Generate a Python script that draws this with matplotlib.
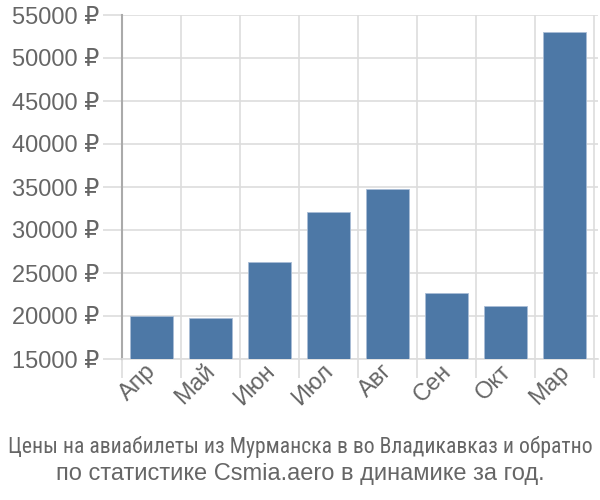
import matplotlib
matplotlib.use('Agg')
import matplotlib.pyplot as plt
import matplotlib.transforms as mtransforms

months = ['Апр', 'Май', 'Июн', 'Июл', 'Авг', 'Сен', 'Окт', 'Мар']
prices = [19950, 19770, 26280, 32150, 34770, 22680, 21220, 53030]
yticks = [15000, 20000, 25000, 30000, 35000, 40000, 45000, 50000, 55000]

plt.rcParams['font.family'] = ['Liberation Sans', 'DejaVu Sans']
text_col = '#666666'
grid_col = '#dddddd'

fig = plt.figure(figsize=(6, 5), dpi=100)
ax = fig.add_axes([0.203, 0.282, 0.794, 0.688])

x = list(range(len(months)))
ax.bar(x, [p - 15000 for p in prices], bottom=15000, width=0.72,
       color='#4d78a6', edgecolor='#a9bdd6', linewidth=0.6, zorder=3)

ax.set_ylim(15000, 55000)
ax.set_xlim(-0.5, 7.57)
ax.set_yticks(yticks)
ax.set_yticklabels(['%d ₽' % v for v in yticks])

# подписи по центру столбцов, сетка по границам
ax.set_xticks(x)
ax.set_xticklabels(months, rotation=45, ha='right', rotation_mode='anchor')
ax.set_xticks([i - 0.5 for i in range(len(months) + 1)], minor=True)
ax.tick_params(axis='x', which='major', length=0, pad=1, labelsize=17, labelcolor=text_col)
ax.tick_params(axis='x', which='minor', length=14, color=grid_col, width=1.2)
ax.tick_params(axis='y', length=14, color=grid_col, width=1.2, pad=2, labelsize=17, labelcolor=text_col)
ax.grid(True, which='minor', axis='x', color=grid_col, lw=1.2, zorder=0)
ax.grid(True, which='major', axis='y', color=grid_col, lw=1.2, zorder=0)

offset = mtransforms.ScaledTranslation(-0.06, 0, fig.dpi_scale_trans)
for lab in ax.get_xticklabels():
    lab.set_transform(lab.get_transform() + offset)

for s in ['top', 'right']:
    ax.spines[s].set_visible(False)
ax.spines['left'].set_color('#aaaaaa')
ax.spines['left'].set_linewidth(1.5)
ax.spines['bottom'].set_color(grid_col)
ax.spines['bottom'].set_linewidth(1.2)

fig.text(0.5, 0.106, 'Цены на авиабилеты из Мурманска в во Владикавказ и обратно',
         ha='center', va='center', fontsize=15.6, color=text_col,
         family=['Roboto Condensed', 'DejaVu Sans'])
fig.text(0.5, 0.052, 'по статистике Csmia.aero в динамике за год.',
         ha='center', va='center', fontsize=17, color=text_col)

fig.savefig('out.png', dpi=100)
